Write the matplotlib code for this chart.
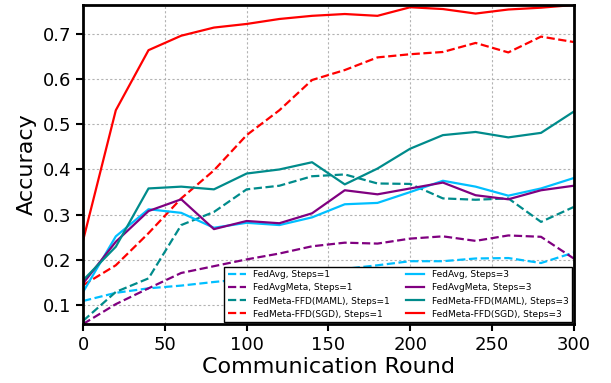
import numpy as np
import matplotlib
matplotlib.use('Agg')
import matplotlib.pyplot as plt

rounds = np.arange(0, 301, 20)

fedavg_s1 = [0.109, 0.127, 0.137, 0.143, 0.151, 0.158, 0.165, 0.172, 0.180, 0.188,
             0.197, 0.197, 0.203, 0.204, 0.193, 0.216]
fedavgmeta_s1 = [0.058, 0.102, 0.137, 0.171, 0.186, 0.201, 0.214, 0.230, 0.238, 0.236,
                 0.247, 0.252, 0.242, 0.254, 0.251, 0.203]
maml_s1 = [0.065, 0.129, 0.159, 0.277, 0.306, 0.356, 0.364, 0.385, 0.389, 0.369,
           0.368, 0.336, 0.333, 0.336, 0.284, 0.317]
sgd_s1 = [0.144, 0.188, 0.259, 0.336, 0.398, 0.476, 0.531, 0.598, 0.620, 0.648,
          0.655, 0.660, 0.680, 0.659, 0.694, 0.682]

fedavg_s3 = [0.129, 0.252, 0.312, 0.304, 0.271, 0.282, 0.277, 0.294, 0.323, 0.326,
             0.350, 0.375, 0.362, 0.342, 0.358, 0.381]
fedavgmeta_s3 = [0.148, 0.240, 0.308, 0.334, 0.268, 0.286, 0.281, 0.303, 0.354, 0.345,
                 0.358, 0.371, 0.343, 0.334, 0.354, 0.364]
maml_s3 = [0.155, 0.229, 0.358, 0.362, 0.356, 0.391, 0.400, 0.416, 0.367, 0.402,
           0.446, 0.476, 0.483, 0.471, 0.481, 0.528]
sgd_s3 = [0.243, 0.531, 0.664, 0.696, 0.714, 0.722, 0.733, 0.740, 0.744, 0.740,
          0.759, 0.755, 0.745, 0.754, 0.758, 0.764]

c_avg = '#00bfff'
c_meta = '#800080'
c_maml = '#008b8b'
c_sgd = '#ff0000'

fig = plt.figure(figsize=(6.11, 3.83), dpi=100)
ax = fig.add_axes([0.136, 0.154, 0.803, 0.833])

lw = 1.6
ax.plot(rounds, fedavg_s1, '--', c=c_avg, lw=lw, label='FedAvg, Steps=1')
ax.plot(rounds, fedavgmeta_s1, '--', c=c_meta, lw=lw, label='FedAvgMeta, Steps=1')
ax.plot(rounds, maml_s1, '--', c=c_maml, lw=lw, label='FedMeta-FFD(MAML), Steps=1')
ax.plot(rounds, sgd_s1, '--', c=c_sgd, lw=lw, label='FedMeta-FFD(SGD), Steps=1')
ax.plot(rounds, fedavg_s3, '-', c=c_avg, lw=lw, label='FedAvg, Steps=3')
ax.plot(rounds, fedavgmeta_s3, '-', c=c_meta, lw=lw, label='FedAvgMeta, Steps=3')
ax.plot(rounds, maml_s3, '-', c=c_maml, lw=lw, label='FedMeta-FFD(MAML), Steps=3')
ax.plot(rounds, sgd_s3, '-', c=c_sgd, lw=lw, label='FedMeta-FFD(SGD), Steps=3')

ax.set_xlim(0, 300)
ax.set_ylim(0.058, 0.764)
ax.set_xticks([0, 50, 100, 150, 200, 250, 300])
ax.set_yticks([0.1, 0.2, 0.3, 0.4, 0.5, 0.6, 0.7])
ax.grid(True, color='0.7', linestyle=(0, (2, 2)), linewidth=0.8)
for s in ax.spines.values():
    s.set_linewidth(2)
ax.tick_params(labelsize=13, width=1.5, length=5)
ax.set_xlabel('Communication Round', fontsize=16, labelpad=2)
ax.set_ylabel('Accuracy', fontsize=16)

leg = ax.legend(loc='lower right', ncol=2, fontsize=6.5, fancybox=False,
                edgecolor='black', framealpha=1, borderaxespad=0.2,
                columnspacing=1.8, handlelength=2.0, labelspacing=0.45)
leg.get_frame().set_linewidth(1.0)

plt.savefig('out.png', dpi=100)
